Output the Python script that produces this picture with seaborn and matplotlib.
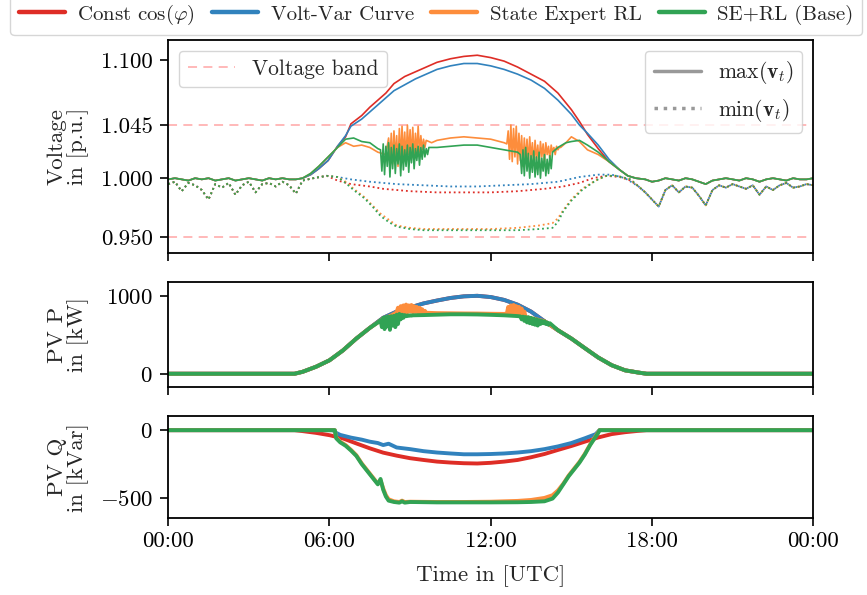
import matplotlib
matplotlib.use("Agg")
import numpy as np
import matplotlib.pyplot as plt
from matplotlib.lines import Line2D
from matplotlib.ticker import FixedLocator, FixedFormatter
import seaborn as sns

# =====================================================
# DATA (hours of the day)
# =====================================================
controllers = ["Const $\\cos(\\varphi)$", "Volt-Var Curve", "State Expert RL", "SE+RL (Base)"]
colors = ["#de2d26", "#3182bd", "#fd8d3c", "#31a354"]
time_ticks = [0, 6, 12, 18, 24]
time_labels = ["00:00", "06:00", "12:00", "18:00", "00:00"]
v_ticks = [0.950, 1.000, 1.045, 1.100]
v_band = [0.950, 1.045]

# --- voltage, night parts (shared by all controllers)
t_am = [0.0, 0.25, 0.5, 0.75, 1.0, 1.25, 1.5, 1.75, 2.0, 2.25, 2.5, 2.75, 3.0, 3.25, 3.5, 3.75, 4.0, 4.25, 4.5]
v_max_am = [0.999, 1.000, 0.999, 0.998, 1.000, 0.999, 1.000, 0.998, 0.999, 1.000, 0.998, 0.999, 1.000, 0.999, 0.998, 1.000, 0.999, 1.000, 0.999]
v_min_am = [0.995, 0.997, 0.989, 0.996, 0.994, 0.990, 0.982, 0.995, 0.992, 0.996, 0.986, 0.994, 0.997, 0.988, 0.995, 0.996, 0.993, 0.997, 0.994]

t_pm = [17.75, 18.0, 18.25, 18.5, 18.75, 19.0, 19.25, 19.5, 19.75, 20.0, 20.25, 20.5, 20.75,
        21.0, 21.25, 21.5, 21.75, 22.0, 22.25, 22.5, 22.75, 23.0, 23.25, 23.5, 23.75, 24.0]
v_max_pm = [0.999, 0.997, 0.998, 1.000, 0.999, 0.998, 1.000, 0.999, 0.997, 0.995, 0.998, 0.999, 1.000,
            0.999, 0.998, 1.000, 0.999, 0.997, 0.999, 1.000, 0.999, 0.998, 1.000, 0.999, 0.999, 1.000]
v_min_pm = [0.988, 0.982, 0.976, 0.990, 0.994, 0.988, 0.993, 0.992, 0.985, 0.977, 0.990, 0.994, 0.992,
            0.995, 0.993, 0.991, 0.994, 0.986, 0.993, 0.990, 0.994, 0.996, 0.992, 0.993, 0.995, 0.994]

# --- max voltage, day parts
t_max_cos = [4.75, 5.0, 5.3, 5.6, 5.95, 6.3, 6.6, 6.8, 7.2, 7.5, 7.8, 8.1, 8.4, 8.8, 9.2, 9.6, 10.0,
             10.5, 11.0, 11.5, 12.0, 12.5, 13.0, 13.5, 14.0, 14.5, 15.0, 15.3, 15.6, 16.0, 16.4, 16.8, 17.1, 17.4]
v_max_cos = [0.999, 1.000, 1.003, 1.008, 1.015, 1.027, 1.035, 1.046, 1.053, 1.060, 1.066, 1.072, 1.080,
             1.086, 1.090, 1.094, 1.098, 1.101, 1.103, 1.104, 1.102, 1.099, 1.094, 1.088, 1.082, 1.072,
             1.058, 1.048, 1.037, 1.025, 1.014, 1.007, 1.002, 1.000]
t_max_vv = t_max_cos
v_max_vv = [0.999, 1.000, 1.003, 1.008, 1.015, 1.027, 1.036, 1.044, 1.050, 1.056, 1.062, 1.068, 1.074,
            1.079, 1.084, 1.088, 1.092, 1.095, 1.097, 1.097, 1.095, 1.092, 1.088, 1.083, 1.076, 1.066,
            1.054, 1.045, 1.038, 1.028, 1.016, 1.007, 1.002, 1.000]

# SE+RL (Base): smooth parts plus two oscillating windows sampled every 3 min
t_max_se_pre = [4.75, 5.0, 5.3, 5.6, 5.95, 6.3, 6.6, 6.9, 7.2, 7.5, 7.8]
v_max_se_pre = [0.999, 1.000, 1.004, 1.010, 1.018, 1.026, 1.033, 1.034, 1.031, 1.030, 1.025]
v_max_se_w1 = [1.024, 1.006, 1.029, 1.003, 1.027, 1.010, 1.030, 1.001, 1.026, 1.008, 1.028, 1.004,
               1.025, 1.012, 1.029, 1.002, 1.027, 1.007, 1.024, 1.010, 1.028, 1.005, 1.026, 1.013,
               1.029, 1.008, 1.025, 1.015, 1.027, 1.011, 1.026, 1.016, 1.028, 1.018, 1.025, 1.020, 1.026]
t_max_se_mid = [10.0, 10.5, 11.0, 11.5, 12.0, 12.5, 13.0]
v_max_se_mid = [1.026, 1.027, 1.028, 1.028, 1.026, 1.024, 1.022]
v_max_se_w2 = [1.020, 1.004, 1.024, 1.002, 1.026, 1.006, 1.021, 1.000, 1.019, 1.005, 1.023, 1.001,
               1.018, 1.003, 1.022, 1.000, 1.017, 1.006, 1.020, 1.002, 1.016, 1.004, 1.019, 1.008, 1.022]
t_max_se_post = [14.5, 14.8, 15.0, 15.3, 15.6, 16.0, 16.4, 16.8, 17.1, 17.4]
v_max_se_post = [1.026, 1.030, 1.031, 1.032, 1.028, 1.022, 1.014, 1.007, 1.002, 1.000]

# State Expert RL
t_max_rl_pre = [4.75, 5.0, 5.3, 5.6, 5.95, 6.3, 6.6, 6.9, 7.2, 7.5, 7.8, 8.1]
v_max_rl_pre = [0.999, 1.000, 1.004, 1.010, 1.018, 1.026, 1.030, 1.027, 1.028, 1.026, 1.022, 1.020]
v_max_rl_w1 = [1.034, 1.014, 1.038, 1.012, 1.040, 1.016, 1.036, 1.010, 1.042, 1.015, 1.044, 1.018,
               1.039, 1.014, 1.045, 1.020, 1.041, 1.017, 1.043, 1.016, 1.038, 1.020, 1.044, 1.022,
               1.036, 1.024, 1.033, 1.026, 1.032]
t_max_rl_mid = [9.8, 10.0, 10.5, 11.0, 11.5, 12.0, 12.5]
v_max_rl_mid = [1.030, 1.032, 1.034, 1.035, 1.034, 1.033, 1.030]
v_max_rl_w2 = [1.029, 1.040, 1.016, 1.045, 1.014, 1.042, 1.018, 1.044, 1.012, 1.038, 1.015, 1.036,
               1.010, 1.034, 1.014, 1.033, 1.012, 1.035, 1.016, 1.030, 1.011, 1.032, 1.015, 1.028,
               1.012, 1.031, 1.018, 1.029, 1.014, 1.030, 1.020, 1.027, 1.016, 1.028, 1.022, 1.026,
               1.020, 1.027, 1.024, 1.026, 1.026]
t_max_rl_post = [14.8, 15.0, 15.3, 15.6, 16.0, 16.4, 16.8, 17.1, 17.4]
v_max_rl_post = [1.030, 1.035, 1.031, 1.024, 1.020, 1.014, 1.007, 1.002, 1.000]

# --- min voltage, day parts
t_min_cos = [4.75, 5.0, 5.4, 5.9, 6.3, 6.8, 7.5, 8.0, 9.0, 10.0, 11.0, 12.0, 13.0, 14.0, 14.7, 15.3,
             15.8, 16.3, 16.8, 17.2, 17.5]
v_min_cos = [0.987, 0.998, 1.000, 1.002, 0.998, 0.995, 0.993, 0.991, 0.989, 0.988, 0.988, 0.988, 0.989,
             0.991, 0.993, 0.996, 1.000, 1.002, 1.001, 0.998, 0.993]
t_min_vv = [4.75, 5.0, 5.4, 5.9, 6.3, 6.8, 7.5, 8.5, 9.5, 10.5, 11.5, 12.5, 13.5, 14.5, 15.3, 16.0,
            16.5, 17.0, 17.5]
v_min_vv = [0.987, 0.998, 1.000, 1.002, 1.001, 0.999, 0.997, 0.995, 0.994, 0.993, 0.993, 0.994, 0.995,
            0.997, 1.001, 1.003, 1.003, 1.000, 0.993]
t_min_se = [4.75, 5.0, 5.4, 5.9, 6.3, 6.6, 6.9, 7.3, 7.6, 7.9, 8.2, 8.5, 9.0, 9.5, 10.0, 11.0, 12.0,
            13.0, 13.8, 14.3, 14.5, 14.7, 15.0, 15.4, 15.9, 16.3, 16.7, 17.2, 17.5]
v_min_se = [0.987, 0.998, 1.000, 1.002, 1.001, 0.996, 0.990, 0.983, 0.976, 0.968, 0.963, 0.959, 0.957,
            0.956, 0.956, 0.956, 0.956, 0.956, 0.957, 0.958, 0.963, 0.972, 0.981, 0.990, 0.998, 1.002,
            1.002, 0.999, 0.993]
t_min_rl = t_min_se
v_min_rl = [0.987, 0.998, 1.000, 1.002, 1.001, 0.997, 0.991, 0.984, 0.977, 0.970, 0.965, 0.960, 0.958,
            0.957, 0.957, 0.957, 0.957, 0.958, 0.960, 0.962, 0.966, 0.973, 0.982, 0.991, 0.998, 1.002,
            1.002, 0.999, 0.993]

# --- PV active power [kW]
t_p_full = [0.0, 4.7, 5.0, 5.5, 6.0, 6.5, 7.0, 7.5, 8.0, 8.5, 9.0, 9.5, 10.0, 10.5, 11.0, 11.5, 12.0,
            12.5, 13.0, 13.5, 14.0, 14.5, 15.0, 15.5, 16.0, 16.5, 17.0, 17.5, 17.8, 24.0]
p_full = [0, 0, 25, 90, 173, 300, 453, 590, 720, 800, 853, 905, 942, 975, 996, 1003, 987, 950, 889,
          800, 676, 560, 453, 330, 209, 110, 44, 15, 0, 0]

t_p_se_pre = [0.0, 4.7, 5.0, 5.5, 6.0, 6.5, 7.0, 7.5, 7.8]
p_se_pre = [0, 0, 25, 90, 173, 300, 453, 590, 660]
p_se_w1 = [690, 600, 720, 575, 730, 610, 735, 565, 740, 620, 745, 600, 760, 640, 770, 700, 760, 720,
           755, 740, 750, 745, 752, 748, 752]
t_p_se_mid = [9.5, 10.0, 10.5, 11.0, 11.5, 12.0, 12.5, 13.0]
p_se_mid = [755, 760, 765, 765, 763, 758, 752, 742]
p_se_w2 = [738, 700, 735, 680, 730, 660, 728, 650, 720, 640, 710, 630, 700, 620, 690, 640, 680, 650,
           676, 640, 660, 630, 650]
t_p_se_post = [14.5, 15.0, 15.5, 16.0, 16.5, 17.0, 17.5, 17.8, 24.0]
p_se_post = [560, 453, 330, 209, 110, 44, 15, 0, 0]

t_p_rl_pre = [0.0, 4.7, 5.0, 5.5, 6.0, 6.5, 7.0, 7.5, 7.8, 8.0, 8.3]
p_rl_pre = [0, 0, 25, 90, 173, 300, 453, 590, 660, 710, 750]
p_rl_w1 = [790, 850, 780, 870, 790, 880, 785, 890, 790, 880, 800, 885, 790, 870, 795, 860, 790, 850,
           790, 830, 785, 810, 785]
t_p_rl_mid = [10.0, 10.5, 11.0, 11.5, 12.0, 12.5]
p_rl_mid = [780, 778, 776, 775, 772, 770]
p_rl_w2 = [775, 860, 770, 880, 775, 885, 780, 870, 770, 860, 760, 840, 750, 800, 730]
t_p_rl_post = [13.7, 14.0, 14.5, 15.0, 15.5, 16.0, 16.5, 17.0, 17.5, 17.8, 24.0]
p_rl_post = [700, 676, 560, 453, 330, 209, 110, 44, 15, 0, 0]

# --- PV reactive power [kVar]
t_q_cos = [0.0, 4.7, 5.0, 5.5, 6.0, 6.5, 7.0, 7.5, 8.0, 8.5, 9.0, 9.5, 10.0, 10.5, 11.0, 11.5, 12.0,
           12.5, 13.0, 13.5, 14.0, 14.5, 15.0, 15.5, 16.0, 16.5, 17.0, 17.5, 17.8, 24.0]
q_cos = [0, 0, -7, -20, -37, -61, -98, -134, -166, -188, -207, -220, -232, -239, -244, -246, -241,
         -232, -220, -200, -176, -146, -117, -85, -54, -29, -15, -5, 0, 0]
t_q_vv = [0.0, 6.15, 6.2, 6.4, 6.8, 7.2, 7.5, 7.8, 8.0, 8.2, 8.5, 9.0, 9.5, 10.0, 10.5, 11.0, 11.5,
          12.0, 12.5, 13.0, 13.5, 14.0, 14.5, 15.0, 15.5, 15.9, 16.0, 16.05, 24.0]
q_vv = [0, 0, -15, -35, -55, -70, -85, -95, -110, -100, -128, -140, -155, -165, -172, -178, -178,
        -176, -172, -165, -155, -140, -120, -95, -60, -30, -10, 0, 0]
t_q_se = [0.0, 6.2, 6.25, 6.4, 6.6, 6.8, 7.0, 7.2, 7.4, 7.6, 7.8, 7.9, 8.0, 8.1, 8.2, 8.4, 8.6, 8.7,
          8.8, 9.0, 10.0, 11.0, 12.0, 13.0, 13.5, 14.0, 14.3, 14.5, 14.7, 14.9, 15.1, 15.3, 15.5, 15.7,
          15.9, 16.0, 16.05, 24.0]
q_se = [0, 0, -60, -90, -115, -150, -190, -250, -300, -350, -400, -360, -440, -490, -520, -530, -535,
        -525, -535, -530, -533, -533, -533, -532, -530, -525, -505, -460, -400, -340, -290, -240, -180,
        -110, -50, -20, 0, 0]
t_q_rl = t_q_se
q_rl = [0, 0, -55, -85, -110, -145, -185, -245, -295, -345, -395, -370, -430, -480, -510, -525, -530,
        -520, -530, -528, -530, -530, -528, -522, -515, -500, -480, -445, -395, -335, -285, -235, -175,
        -105, -45, -15, 0, 0]


# =====================================================
# ASSEMBLE SERIES
# =====================================================
def window(t0, t1, vals):
    # the 3-min samples of an oscillating stretch, between t0 and t1
    return list(np.linspace(t0, t1, len(vals)))


t_max_se = t_max_se_pre + window(7.9, 9.7, v_max_se_w1) + t_max_se_mid + window(13.1, 14.3, v_max_se_w2) + t_max_se_post
v_max_se = v_max_se_pre + v_max_se_w1 + v_max_se_mid + v_max_se_w2 + v_max_se_post
t_max_rl = t_max_rl_pre + window(8.2, 9.6, v_max_rl_w1) + t_max_rl_mid + window(12.6, 14.6, v_max_rl_w2) + t_max_rl_post
v_max_rl = v_max_rl_pre + v_max_rl_w1 + v_max_rl_mid + v_max_rl_w2 + v_max_rl_post

t_p_se = t_p_se_pre + window(7.9, 9.1, p_se_w1) + t_p_se_mid + window(13.1, 14.2, p_se_w2) + t_p_se_post
p_se = p_se_pre + p_se_w1 + p_se_mid + p_se_w2 + p_se_post
t_p_rl = t_p_rl_pre + window(8.5, 9.6, p_rl_w1) + t_p_rl_mid + window(12.6, 13.3, p_rl_w2) + t_p_rl_post
p_rl = p_rl_pre + p_rl_w1 + p_rl_mid + p_rl_w2 + p_rl_post

# =====================================================
# STYLE
# =====================================================
sns.set_theme(style="ticks", rc={
    "axes.edgecolor": "black",
    "axes.linewidth": 1.3,
    "xtick.color": "black",
    "ytick.color": "black",
    "xtick.major.size": 6,
    "ytick.major.size": 6,
    "xtick.major.width": 1.2,
    "ytick.major.width": 1.2,
    "ytick.major.pad": 5,
})
plt.rcParams["font.family"] = ["cmr10", "DejaVu Serif"]
plt.rcParams["mathtext.fontset"] = "cm"
plt.rcParams["axes.formatter.use_mathtext"] = True
plt.rcParams["font.size"] = 16.5
plt.rcParams["xtick.labelsize"] = 16.5
plt.rcParams["ytick.labelsize"] = 16.5
plt.rcParams["axes.labelsize"] = 16.5
plt.rcParams["legend.fontsize"] = 15.5


def draw(ax, t, y, color, lw, ls="-"):
    sns.lineplot(x=t, y=y, ax=ax, color=color, linewidth=lw, linestyle=ls,
                 estimator=None, sort=False)


# =====================================================
# FIGURE
# =====================================================
fig, axes = plt.subplots(3, 1, figsize=(8.67, 5.95), dpi=100, sharex=True,
                         gridspec_kw=dict(height_ratios=[213, 105, 102], hspace=0.21))
fig.subplots_adjust(left=0.194, right=0.938, top=0.933, bottom=0.129)
ax_v, ax_p, ax_q = axes

# voltage panel
for yb in v_band:
    ax_v.axhline(yb, color="#ffb3b3", linewidth=1.3, linestyle=(0, (5, 3.5)))

max_sets = [(t_max_cos, v_max_cos), (t_max_vv, v_max_vv), (t_max_rl, v_max_rl), (t_max_se, v_max_se)]
min_sets = [(t_min_cos, v_min_cos), (t_min_vv, v_min_vv), (t_min_rl, v_min_rl), (t_min_se, v_min_se)]
for (tn, vn), c in zip(min_sets, colors):
    draw(ax_v, t_am + tn + t_pm, v_min_am + vn + v_min_pm, c, 1.3, ":")
for (tm, vm), c in zip(max_sets, colors):
    draw(ax_v, t_am + tm + t_pm, v_max_am + vm + v_max_pm, c, 1.2)

ax_v.set_ylim(0.937, 1.117)
ax_v.yaxis.set_major_locator(FixedLocator(v_ticks))
ax_v.yaxis.set_major_formatter(FixedFormatter([f"{v:.3f}" for v in v_ticks]))
ax_v.set_ylabel("Voltage\nin [p.u.]", linespacing=1.0, labelpad=8)

band_leg = ax_v.legend([Line2D([], [], color="#ffb3b3", lw=1.3, ls=(0, (5, 3.5)))],
                       ["Voltage band"], loc="upper left", handlelength=2.2,
                       borderpad=0.4, fancybox=True)
ax_v.add_artist(band_leg)
ax_v.legend([Line2D([], [], color="#999999", lw=2.5),
             Line2D([], [], color="#999999", lw=2.5, ls=":")],
            [r"$\max(\mathbf{v}_t)$", r"$\min(\mathbf{v}_t)$"],
            loc="upper right", handlelength=2.2, borderpad=0.4, fancybox=True)

# active power panel
for (t, p), c in zip([(t_p_full, p_full), (t_p_full, p_full), (t_p_rl, p_rl), (t_p_se, p_se)], colors):
    draw(ax_p, t, p, c, 2.8)
ax_p.set_ylim(-170, 1180)
ax_p.set_yticks([0, 1000])
ax_p.set_ylabel("PV P\nin [kW]", linespacing=1.0, labelpad=8)

# reactive power panel
for (t, q), c in zip([(t_q_cos, q_cos), (t_q_vv, q_vv), (t_q_rl, q_rl), (t_q_se, q_se)], colors):
    draw(ax_q, t, q, c, 2.8)
ax_q.set_ylim(-650, 102)
ax_q.set_yticks([-500, 0])
ax_q.set_ylabel("PV Q\nin [kVar]", linespacing=1.0, labelpad=8)

ax_q.set_xlim(0, 24)
ax_q.set_xticks(time_ticks)
ax_q.set_xticklabels(time_labels)
ax_q.set_xlabel("Time in [UTC]", labelpad=10)

for ax in axes:
    for s in ax.spines.values():
        s.set_visible(True)
    ax.tick_params(direction="out")

fig.align_ylabels(axes)

handles = [Line2D([], [], color=c, lw=3.2) for c in colors]
fig.legend(handles, controllers, loc="lower left", ncol=4, mode="expand",
           bbox_to_anchor=(0.012, 0.941, 0.982, 0.051), handlelength=2.2,
           handletextpad=0.6, columnspacing=1.0,
           borderaxespad=0, fancybox=True, fontsize=15)

fig.savefig("out.png", dpi=100)
